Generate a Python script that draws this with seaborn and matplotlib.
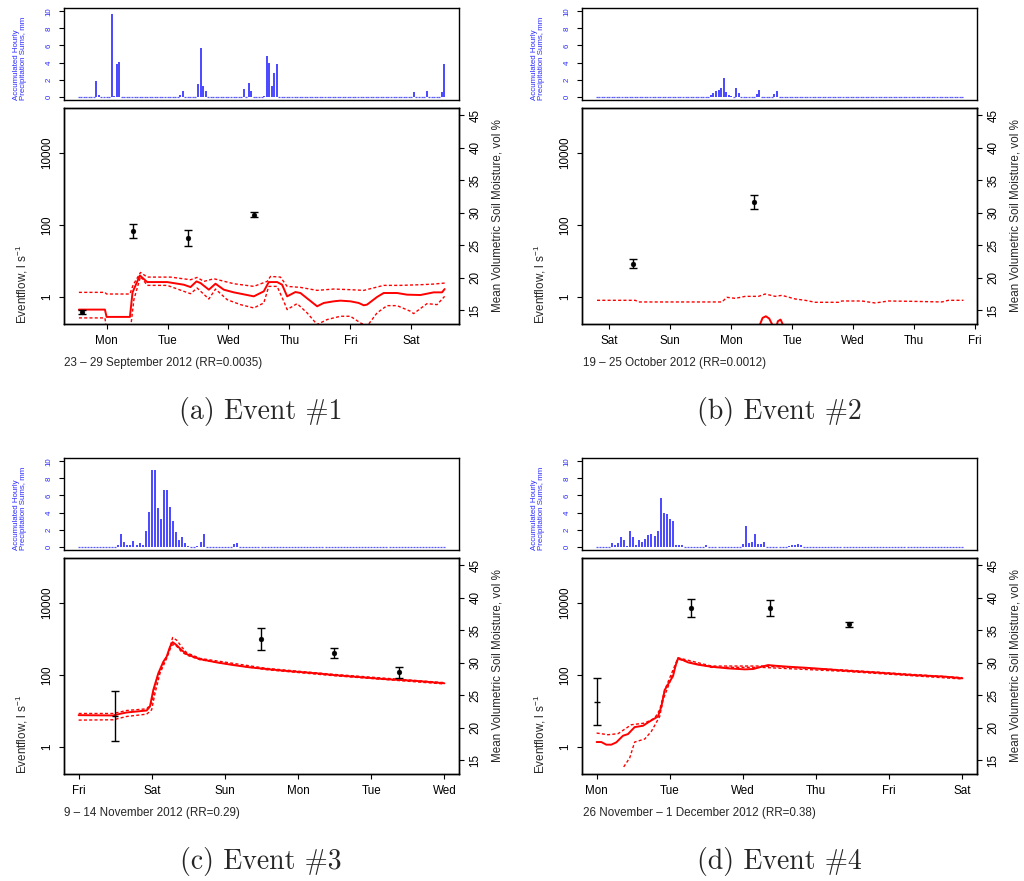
import matplotlib
matplotlib.use("Agg")
import numpy as np
import pandas as pd
import seaborn as sns
import matplotlib.pyplot as plt

# ---------------- data ----------------
# Panel (a) 23-29 September 2012; x in days from Sunday 00:00
a_start_day = 13 / 24
a_n_hours = 145
a_rain_hour = [7, 8, 13, 14, 15, 16, 40, 41, 47, 48, 49, 50, 65, 67, 68, 73, 74, 75, 76, 77, 78, 132, 137, 143, 144]
a_rain_mm = [1.8, 0.2, 9.7, 0.1, 3.8, 4.1, 0.2, 0.7, 1.5, 5.7, 1.3, 0.6, 0.9, 1.6, 0.7, 0.1, 4.8, 3.9, 1.2, 2.8, 3.8, 0.5, 0.6, 0.5, 3.8]
a_day_ticks = [1, 2, 3, 4, 5, 6]
a_day_labels = ["Mon", "Tue", "Wed", "Thu", "Fri", "Sat"]
a_sim_x = [0.546, 0.973, 1.0, 1.383, 1.426, 1.546, 1.667, 1.995, 2.268, 2.377, 2.475, 2.541, 2.678, 2.787, 2.923, 3.087, 3.415, 3.579, 3.661, 3.798, 3.880, 3.962, 4.098, 4.180, 4.454, 4.563, 4.727, 4.836, 5.0, 5.137, 5.219, 5.273, 5.437, 5.546, 5.765, 5.929, 6.148, 6.366, 6.503, 6.546]
a_sim_log = [-0.35, -0.35, -0.553, -0.553, 0.129, 0.599, 0.415, 0.415, 0.341, 0.276, 0.433, 0.387, 0.203, 0.369, 0.203, 0.129, 0.018, 0.157, 0.415, 0.415, 0.341, 0.018, 0.138, 0.111, -0.258, -0.166, -0.120, -0.101, -0.120, -0.166, -0.230, -0.212, 0.0, 0.111, 0.111, 0.065, 0.055, 0.129, 0.129, 0.221]
a_up_x = [0.546, 0.973, 1.0, 1.383, 1.437, 1.557, 1.667, 2.049, 2.377, 2.486, 2.596, 2.760, 3.087, 3.415, 3.634, 3.689, 3.852, 3.962, 4.180, 4.454, 4.727, 5.0, 5.219, 5.546, 5.820, 6.148, 6.366, 6.546]
a_up_log = [0.129, 0.129, 0.083, 0.083, 0.341, 0.682, 0.553, 0.553, 0.479, 0.544, 0.433, 0.507, 0.369, 0.295, 0.433, 0.571, 0.553, 0.295, 0.267, 0.184, 0.221, 0.203, 0.184, 0.323, 0.323, 0.341, 0.359, 0.387]
a_lo_x = [0.546, 0.973, 1.0, 1.383, 1.404, 1.448, 1.557, 1.667, 1.995, 2.268, 2.377, 2.486, 2.678, 2.787, 2.978, 3.197, 3.415, 3.579, 3.661, 3.798, 3.907, 3.962, 4.126, 4.290, 4.454, 4.617, 4.836, 5.0, 5.164, 5.273, 5.437, 5.601, 5.765, 5.984, 6.038, 6.257, 6.421, 6.546]
a_lo_log = [-0.581, -0.581, -0.903, -0.903, -0.719, -0.074, 0.571, 0.323, 0.323, 0.157, 0.092, 0.249, -0.055, 0.221, -0.074, -0.212, -0.304, -0.166, 0.295, 0.295, -0.120, -0.350, -0.184, -0.442, -0.765, -0.627, -0.535, -0.535, -0.719, -0.811, -0.442, -0.240, -0.240, -0.396, -0.461, -0.184, -0.212, 0.018]
a_obs_x = [0.590, 1.426, 2.339, 3.426]
a_obs_sm = [14.64, 27.2, 26.1, 29.7]
a_obs_err = [0.3, 1.1, 1.2, 0.45]
a_obs_marker = ["o", "o", "o", "o"]

# Panel (b) 19-25 October 2012; x in days from Saturday 00:00
b_start_day = -5 / 24
b_n_hours = 145
b_rain_hour = [45, 46, 47, 48, 49, 50, 51, 52, 53, 55, 56, 63, 64, 70, 71]
b_rain_mm = [0.2, 0.4, 0.6, 0.8, 1.0, 2.2, 0.5, 0.2, 0.1, 1.0, 0.4, 0.3, 0.8, 0.3, 0.6]
b_day_ticks = [0, 1, 2, 3, 4, 5, 6]
b_day_labels = ["Sat", "Sun", "Mon", "Tue", "Wed", "Thu", "Fri"]
b_sim_x = [-0.202, 2.421, 2.448, 2.475, 2.514, 2.568, 2.623, 2.667, 2.710, 2.765, 2.809, 2.842, 2.885, 2.940, 5.809]
b_sim_log = [-1.5, -1.5, -1.0, -0.747, -0.581, -0.535, -0.599, -0.747, -1.0, -0.673, -0.627, -0.747, -1.0, -1.5, -1.5]
b_up_x = [-0.202, 0.426, 0.481, 1.847, 1.929, 2.066, 2.230, 2.448, 2.557, 2.721, 2.831, 3.049, 3.213, 3.377, 3.760, 3.814, 4.142, 4.361, 4.579, 4.962, 5.454, 5.563, 5.809]
b_up_log = [-0.092, -0.092, -0.138, -0.138, -0.009, -0.037, 0.018, 0.018, 0.083, 0.018, 0.046, -0.055, -0.092, -0.147, -0.147, -0.111, -0.111, -0.166, -0.111, -0.120, -0.138, -0.092, -0.092]
b_lo_x = [-0.202, 5.809]
b_lo_log = [-1.6, -1.6]
b_obs_x = [0.383, 2.377]
b_obs_sm = [22.1, 31.6]
b_obs_err = [0.7, 1.05]
b_obs_marker = ["o", "o"]

# Panel (c) 9-14 November 2012; x in days from Friday 00:00
c_start_day = 0.0
c_n_hours = 121
c_rain_hour = [13, 14, 15, 16, 17, 18, 19, 20, 21, 22, 23, 24, 25, 26, 27, 28, 29, 30, 31, 32, 33, 34, 35, 36, 39, 40, 41, 51, 52]
c_rain_mm = [0.2, 1.5, 0.5, 0.2, 0.2, 0.6, 0.2, 0.4, 0.2, 1.8, 4.1, 9.0, 9.0, 4.5, 3.2, 6.7, 6.6, 4.6, 3.0, 1.7, 0.8, 1.1, 0.4, 0.1, 0.1, 0.5, 1.5, 0.3, 0.4]
c_day_ticks = [0, 1, 2, 3, 4, 5]
c_day_labels = ["Fri", "Sat", "Sun", "Mon", "Tue", "Wed"]
c_sim_x = [0.0, 0.474, 0.565, 0.656, 0.930, 0.975, 1.021, 1.089, 1.158, 1.203, 1.249, 1.285, 1.340, 1.408, 1.477, 1.568, 1.659, 1.887, 2.115, 2.343, 2.571, 2.799, 3.026, 3.254, 3.482, 3.710, 3.938, 4.166, 4.394, 4.622, 5.0]
c_sim_log = [0.885, 0.876, 0.922, 0.959, 1.014, 1.124, 1.585, 2.046, 2.369, 2.507, 2.783, 2.912, 2.829, 2.691, 2.581, 2.507, 2.442, 2.350, 2.276, 2.212, 2.166, 2.120, 2.083, 2.046, 2.0, 1.963, 1.926, 1.889, 1.862, 1.834, 1.770]
c_up_x = [0.0, 0.474, 0.656, 0.930, 0.998, 1.067, 1.158, 1.226, 1.285, 1.340, 1.408, 1.477, 1.659, 2.571, 3.482, 5.0]
c_up_log = [0.931, 0.931, 1.014, 1.060, 1.217, 1.862, 2.323, 2.599, 3.041, 2.968, 2.783, 2.618, 2.461, 2.184, 2.018, 1.788]
c_lo_x = [0.0, 0.474, 0.656, 0.930, 0.998, 1.044, 1.112, 1.203, 1.272, 1.317, 1.408, 1.477, 1.659, 2.571, 3.482, 5.0]
c_lo_log = [0.747, 0.756, 0.848, 0.912, 1.032, 1.493, 2.046, 2.461, 2.829, 2.848, 2.645, 2.553, 2.424, 2.147, 1.982, 1.751]
c_obs_x = [0.497, 2.498, 3.496, 4.376]
c_obs_sm = [21.8, 33.6, 31.5, 28.5]
c_obs_err = [3.8, 1.7, 0.75, 0.85]
c_obs_marker = ["_", "o", "o", "o"]

# Panel (d) 26 November - 1 December 2012; x in days from Monday 00:00
d_start_day = 0.0
d_n_hours = 121
d_rain_hour = [5, 6, 7, 8, 9, 10, 11, 12, 13, 14, 15, 16, 17, 18, 19, 20, 21, 22, 23, 24, 25, 26, 27, 28, 36, 48, 49, 50, 51, 52, 53, 54, 55, 63, 64, 65, 66, 67]
d_rain_mm = [0.4, 0.2, 0.4, 1.1, 0.8, 0.1, 1.8, 1.1, 0.2, 0.8, 0.5, 0.9, 1.4, 1.5, 1.2, 1.8, 5.7, 3.9, 3.8, 3.2, 3.0, 0.2, 0.2, 0.2, 0.2, 0.3, 2.4, 0.4, 0.5, 1.5, 0.3, 0.3, 0.5, 0.1, 0.2, 0.2, 0.3, 0.2]
d_day_ticks = [0, 1, 2, 3, 4, 5]
d_day_labels = ["Mon", "Tue", "Wed", "Thu", "Fri", "Sat"]
d_sim_x = [0.0, 0.064, 0.132, 0.201, 0.269, 0.360, 0.429, 0.520, 0.634, 0.725, 0.839, 0.885, 0.931, 0.999, 1.045, 1.081, 1.113, 1.159, 1.250, 1.387, 1.569, 1.797, 2.026, 2.140, 2.254, 2.345, 2.436, 2.619, 2.847, 3.166, 3.394, 3.850, 4.307, 4.763, 5.0]
d_sim_log = [0.138, 0.138, 0.065, 0.065, 0.129, 0.313, 0.359, 0.553, 0.590, 0.710, 0.848, 1.124, 1.585, 1.816, 1.972, 2.276, 2.461, 2.433, 2.350, 2.286, 2.230, 2.184, 2.157, 2.166, 2.230, 2.276, 2.258, 2.230, 2.203, 2.157, 2.120, 2.065, 2.0, 1.954, 1.908]
d_up_x = [0.0, 0.155, 0.292, 0.474, 0.657, 0.794, 0.862, 0.931, 1.113, 1.569, 2.254, 3.394, 5.0]
d_up_log = [0.387, 0.341, 0.369, 0.618, 0.664, 0.802, 1.032, 1.585, 2.479, 2.249, 2.249, 2.138, 1.926]
d_lo_x = [0.370, 0.452, 0.520, 0.657, 0.748, 0.862, 0.908, 0.999, 1.113, 1.569, 2.254, 3.394, 5.0]
d_lo_log = [-0.553, -0.304, 0.138, 0.221, 0.433, 0.848, 1.309, 1.797, 2.442, 2.212, 2.212, 2.101, 1.889]
d_obs_x = [0.0, 1.287, 2.372, 3.454]
d_obs_sm = [24.0, 38.4, 38.4, 35.9]
d_obs_err = [3.6, 1.45, 1.25, 0.36]
d_obs_marker = ["_", "o", "o", "o"]

period_labels = ["23 \u2013 29 September 2012 (RR=0.0035)",
                 "19 \u2013 25 October 2012 (RR=0.0012)",
                 "9 \u2013 14 November 2012 (RR=0.29)",
                 "26 November \u2013 1 December 2012 (RR=0.38)"]
event_labels = ["(a) Event #1", "(b) Event #2", "(c) Event #3", "(d) Event #4"]

# ---------------- style ----------------
sns.set_theme(style="ticks")
plt.rcParams["font.family"] = ["Liberation Sans", "DejaVu Sans"]
plt.rcParams["mathtext.default"] = "regular"

W, H = 1024, 881
fig = plt.figure(figsize=(W / 100, H / 100), dpi=100)
fig.patch.set_facecolor("white")


def rect(x0, y0, x1, y1):
    return [x0 / W, 1 - y1 / H, (x1 - x0) / W, (y1 - y0) / H]


def fx(x):
    return x / W


def fy(y):
    return 1 - y / H


FS = 8.4
BLUE = "#2a2aff"
panels = [
    dict(start=a_start_day, n=a_n_hours, rh=a_rain_hour, rm=a_rain_mm, ticks=a_day_ticks, labels=a_day_labels,
         sx=a_sim_x, sl=a_sim_log, ux=a_up_x, ul=a_up_log, lx=a_lo_x, ll=a_lo_log,
         ox=a_obs_x, om=a_obs_sm, oe=a_obs_err, mk=a_obs_marker, dx=0, dy=0),
    dict(start=b_start_day, n=b_n_hours, rh=b_rain_hour, rm=b_rain_mm, ticks=b_day_ticks, labels=b_day_labels,
         sx=b_sim_x, sl=b_sim_log, ux=b_up_x, ul=b_up_log, lx=b_lo_x, ll=b_lo_log,
         ox=b_obs_x, om=b_obs_sm, oe=b_obs_err, mk=b_obs_marker, dx=518, dy=0),
    dict(start=c_start_day, n=c_n_hours, rh=c_rain_hour, rm=c_rain_mm, ticks=c_day_ticks, labels=c_day_labels,
         sx=c_sim_x, sl=c_sim_log, ux=c_up_x, ul=c_up_log, lx=c_lo_x, ll=c_lo_log,
         ox=c_obs_x, om=c_obs_sm, oe=c_obs_err, mk=c_obs_marker, dx=0, dy=450),
    dict(start=d_start_day, n=d_n_hours, rh=d_rain_hour, rm=d_rain_mm, ticks=d_day_ticks, labels=d_day_labels,
         sx=d_sim_x, sl=d_sim_log, ux=d_up_x, ul=d_up_log, lx=d_lo_x, ll=d_lo_log,
         ox=d_obs_x, om=d_obs_sm, oe=d_obs_err, mk=d_obs_marker, dx=518, dy=450),
]

for i, p in enumerate(panels):
    dx, dy = p["dx"], p["dy"]
    span = (p["n"] - 1) / 24
    x0 = p["start"]
    xlim = (x0 - 0.04 * span, x0 + span + 0.04 * span)

    # --- precipitation axis ---
    axp = fig.add_axes(rect(64 + dx, 8 + dy, 459 + dx, 100 + dy))
    hours = np.arange(p["n"])
    rain = np.zeros(p["n"])
    rain[np.array(p["rh"])] = p["rm"]
    xh = x0 + hours / 24
    wet = rain > 0
    axp.vlines(xh[wet], 0, rain[wet], color=BLUE, lw=1.2)
    axp.plot(xh[~wet], rain[~wet], ls="none", marker="_", ms=1.4, mew=0.9, color="#5a5aff")
    axp.set_xlim(*xlim)
    axp.set_ylim(-0.4, 10.4)
    axp.set_xticks([])
    axp.set_yticks([0, 2, 4, 6, 8, 10])
    axp.set_yticklabels(["0", "2", "4", "6", "8", "10"], rotation=90, va="center", color=BLUE, fontsize=5.7)
    axp.tick_params(axis="y", length=3.8, width=0.8, pad=4.5, colors="black", labelcolor=BLUE)
    for s in axp.spines.values():
        s.set_linewidth(1.0)
        s.set_color("black")
    fig.text(fx(20 + dx), fy(100 + dy), "Accumulated Hourly\nPrecipitation Sums, mm", rotation=90,
             ha="center", va="bottom", multialignment="left", color=BLUE, fontsize=5.7, linespacing=1.05)

    # --- main axis ---
    axm = fig.add_axes(rect(64 + dx, 108 + dy, 459 + dx, 324 + dy))
    axm.set_yscale("log")
    sim = pd.DataFrame({"day": p["sx"], "flow": np.power(10.0, p["sl"])})
    up = pd.DataFrame({"day": p["ux"], "flow": np.power(10.0, p["ul"])})
    lo = pd.DataFrame({"day": p["lx"], "flow": np.power(10.0, p["ll"])})
    sns.lineplot(data=up, x="day", y="flow", ax=axm, color="red", lw=1.0, linestyle=(0, (2.2, 1.6)),
                 estimator=None, sort=False)
    sns.lineplot(data=lo, x="day", y="flow", ax=axm, color="red", lw=1.0, linestyle=(0, (2.2, 1.6)),
                 estimator=None, sort=False)
    sns.lineplot(data=sim, x="day", y="flow", ax=axm, color="red", lw=1.4, estimator=None, sort=False)
    axm.set_xlim(*xlim)
    axm.set_ylim(10 ** -0.75, 10 ** 5.25)
    axm.set_yticks([1, 100, 10000])
    axm.yaxis.set_minor_locator(matplotlib.ticker.NullLocator())
    axm.set_yticklabels(["1", "100", "10000"], rotation=90, va="center", fontsize=FS)
    axm.set_xticks(p["ticks"])
    axm.set_xticklabels(p["labels"], fontsize=FS)
    axm.set_xlabel("")
    axm.set_ylabel("")
    axm.tick_params(axis="both", length=3.6, width=0.8, pad=4.5, colors="black")
    for s in axm.spines.values():
        s.set_linewidth(1.0)
        s.set_color("black")

    axr = axm.twinx()
    obs = pd.DataFrame({"day": p["ox"], "sm": p["om"], "err": p["oe"], "mk": p["mk"]})
    axr.errorbar(obs["day"], obs["sm"], yerr=obs["err"], fmt="none", ecolor="black", elinewidth=1.0,
                 capsize=2.6, capthick=1.0)
    dots = obs[obs["mk"] == "o"]
    sns.scatterplot(data=dots, x="day", y="sm", ax=axr, color="black", s=12, edgecolor="black", linewidth=0.3,
                    legend=False, zorder=5)
    bars = obs[obs["mk"] == "_"]
    axr.plot(bars["day"], bars["sm"], ls="none", marker="_", ms=5, mew=1.0, color="black")
    axr.set_ylim(12.85, 46.1)
    axr.set_yticks([15, 20, 25, 30, 35, 40, 45])
    axr.set_yticklabels(["15", "20", "25", "30", "35", "40", "45"], rotation=90, va="center", fontsize=FS)
    axr.set_ylabel("")
    axr.set_xlabel("")
    axr.tick_params(axis="y", length=3.6, width=0.8, pad=4.0, colors="black")
    for s in axr.spines.values():
        s.set_linewidth(1.0)
        s.set_color("black")

    fig.text(fx(22 + dx), fy(324 + dy), "Eventflow, l s$^{-1}$", rotation=90, ha="center", va="bottom",
             fontsize=FS)
    fig.text(fx(498 + dx), fy(216 + dy), "Mean Volumetric Soil Moisture, vol %", rotation=90, ha="center",
             va="center", fontsize=FS)
    fig.text(fx(64 + dx + (1 if dx else 0)), fy(363 + dy), period_labels[i], ha="left", va="center", fontsize=FS)
    fig.text(fx(261 + dx), fy(412 + dy), event_labels[i], ha="center", va="center",
             fontfamily=["cmr10", "DejaVu Serif"], fontsize=20)

fig.savefig("out.png", dpi=100, facecolor="white")
